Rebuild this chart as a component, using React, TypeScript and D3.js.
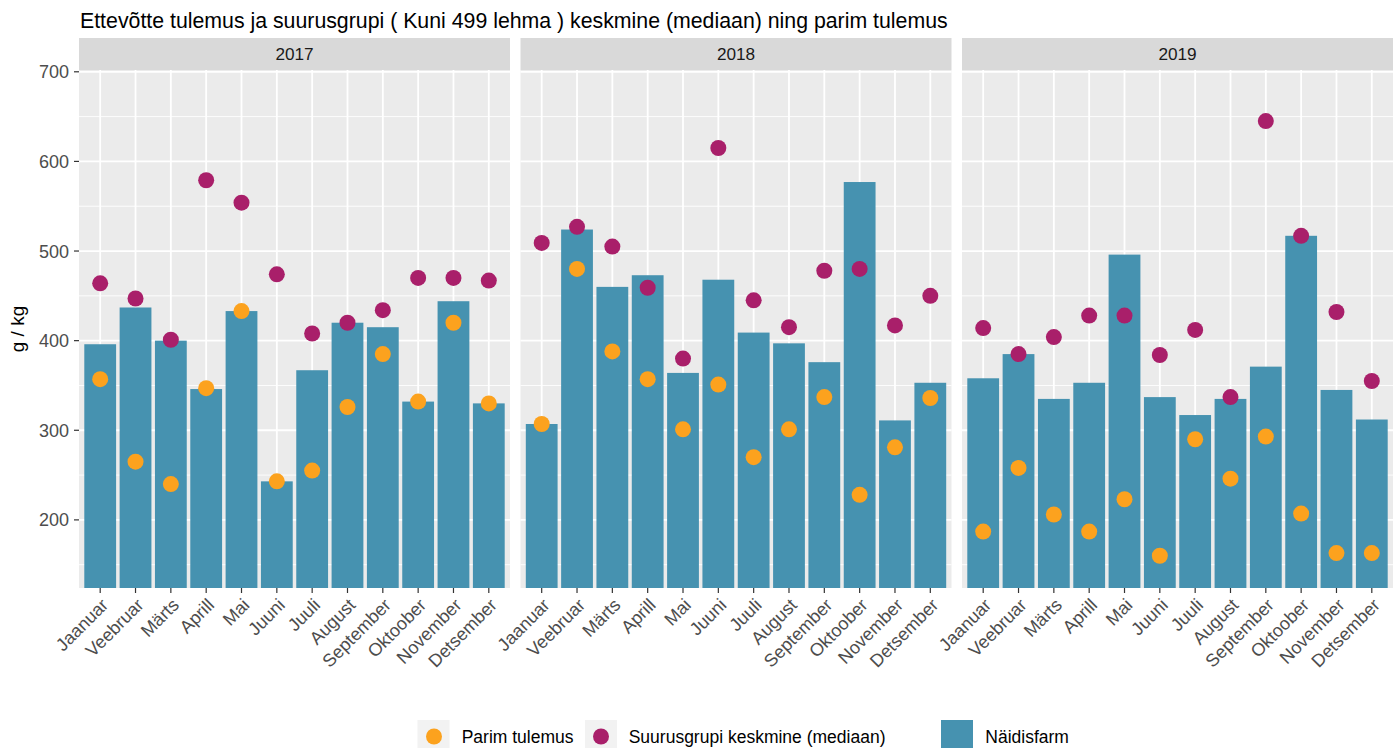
import React from "react";
import * as d3 from "d3";

const years = ["2017", "2018", "2019"];
const months = ["Jaanuar", "Veebruar", "Märts", "Aprill", "Mai", "Juuni", "Juuli", "August", "September", "Oktoober", "November", "Detsember"];

// Näidisfarm (bars)
const farm2017 = [396, 437, 400, 346, 433, 243, 367, 420, 415, 332, 444, 330];
const farm2018 = [307, 524, 460, 473, 364, 468, 409, 397, 376, 577, 311, 353];
const farm2019 = [358, 385, 335, 353, 496, 337, 317, 335, 371, 517, 345, 312];

// Suurusgrupi keskmine (mediaan)
const median2017 = [464, 447, 401, 579, 554, 474, 408, 420, 434, 470, 470, 467];
const median2018 = [509, 527, 505, 459, 380, 615, 445, 415, 478, 480, 417, 450];
const median2019 = [414, 385, 404, 428, 428, 384, 412, 337, 645, 517, 432, 355];

// Parim tulemus
const best2017 = [357, 265, 240, 347, 433, 243, 255, 326, 385, 332, 420, 330];
const best2018 = [307, 480, 388, 357, 301, 351, 270, 301, 337, 228, 281, 336];
const best2019 = [187, 258, 206, 187, 223, 160, 290, 246, 293, 207, 163, 163];

const yTicks = [200, 300, 400, 500, 600, 700];
const yMinor = [150, 250, 350, 450, 550, 650];

const farmByYear = [farm2017, farm2018, farm2019];
const medianByYear = [median2017, median2018, median2019];
const bestByYear = [best2017, best2018, best2019];

const title = "Ettevõtte tulemus ja suurusgrupi ( Kuni 499 lehma ) keskmine (mediaan) ning parim tulemus";
const yLabel = "g / kg";
const legendBest = "Parim tulemus";
const legendMedian = "Suurusgrupi keskmine (mediaan)";
const legendFarm = "Näidisfarm";

const COL_BAR = "#4692B0";
const COL_BEST = "#FCA21E";
const COL_MED = "#A91F6A";
const FONT = "'Liberation Sans', Arial, Helvetica, sans-serif";

export default function App() {
  const W = 1393, H = 748;
  const panelTop = 70, panelBottom = 588, stripTop = 38;
  const panelW = 431, gap = 10.5, left0 = 79;
  const y = d3.scaleLinear().domain([124, 702]).range([panelBottom, panelTop]);
  const tickFont = 18;

  return (
    <svg width={W} height={H} style={{ position: "absolute", left: 0, top: 0, fontFamily: FONT }}>
      <rect x={0} y={0} width={W} height={H} fill="#fff" />
      <text x={80} y={28} fontSize={21.3} fill="#000">{title}</text>
      {/* y axis */}
      {yTicks.map((t) => (
        <g key={"yt" + t}>
          <line x1={left0 - 5} x2={left0} y1={y(t)} y2={y(t)} stroke="#333" strokeWidth={1.2} />
          <text x={left0 - 10} y={y(t)} dy="0.36em" textAnchor="end" fontSize={tickFont} fill="#4D4D4D">{t}</text>
        </g>
      ))}
      <text transform={`translate(${24},${(panelTop + panelBottom) / 2}) rotate(-90)`} textAnchor="middle" fontSize={19} fill="#000">{yLabel}</text>
      {years.map((yr, i) => {
        const x0 = left0 + i * (panelW + gap);
        const x = d3.scaleBand().domain(months).range([x0, x0 + panelW]).paddingInner(0.1).paddingOuter(0.15);
        const cx = (m: string) => (x(m) as number) + x.bandwidth() / 2;
        return (
          <g key={yr}>
            <rect x={x0} y={stripTop} width={panelW} height={panelTop - stripTop} fill="#D9D9D9" />
            <text x={x0 + panelW / 2} y={(stripTop + panelTop) / 2} dy="0.36em" textAnchor="middle" fontSize={17.2} fill="#1A1A1A">{yr}</text>
            <rect x={x0} y={panelTop} width={panelW} height={panelBottom - panelTop} fill="#EBEBEB" />
            {yMinor.map((t) => (
              <line key={"mn" + t} x1={x0} x2={x0 + panelW} y1={y(t)} y2={y(t)} stroke="#fff" strokeWidth={0.9} />
            ))}
            {yTicks.map((t) => (
              <line key={"mj" + t} x1={x0} x2={x0 + panelW} y1={y(t)} y2={y(t)} stroke="#fff" strokeWidth={1.8} />
            ))}
            {months.map((m) => (
              <line key={"vx" + m} x1={cx(m)} x2={cx(m)} y1={panelTop} y2={panelBottom} stroke="#fff" strokeWidth={1.8} />
            ))}
            {months.map((m, j) => (
              <rect key={"b" + m} x={x(m)} y={y(farmByYear[i][j])} width={x.bandwidth()} height={panelBottom - y(farmByYear[i][j])} fill={COL_BAR} />
            ))}
            {months.map((m, j) => (
              <circle key={"o" + m} cx={cx(m)} cy={y(bestByYear[i][j])} r={8} fill={COL_BEST} />
            ))}
            {months.map((m, j) => (
              <circle key={"p" + m} cx={cx(m)} cy={y(medianByYear[i][j])} r={8} fill={COL_MED} />
            ))}
            {months.map((m) => (
              <g key={"xt" + m}>
                <line x1={cx(m)} x2={cx(m)} y1={panelBottom} y2={panelBottom + 5} stroke="#333" strokeWidth={1.2} />
                <text transform={`translate(${cx(m)},${panelBottom + 9}) rotate(-45)`} textAnchor="end" dy="0.72em" fontSize={tickFont} fill="#4D4D4D">{m}</text>
              </g>
            ))}
          </g>
        );
      })}
      {/* legend */}
      <g>
        <rect x={417.5} y={720} width={32} height={32} fill="#F2F2F2" />
        <circle cx={434} cy={736.5} r={8} fill={COL_BEST} />
        <text x={461.7} y={736.5} dy="0.36em" fontSize={17.5} fill="#000">{legendBest}</text>
        <rect x={585} y={720} width={32} height={32} fill="#F2F2F2" />
        <circle cx={601} cy={736.5} r={8} fill={COL_MED} />
        <text x={628.7} y={736.5} dy="0.36em" fontSize={17.5} fill="#000">{legendMedian}</text>
        <rect x={941} y={720} width={32} height={32} fill={COL_BAR} />
        <text x={985.3} y={736.5} dy="0.36em" fontSize={17.5} fill="#000">{legendFarm}</text>
      </g>
    </svg>
  );
}
